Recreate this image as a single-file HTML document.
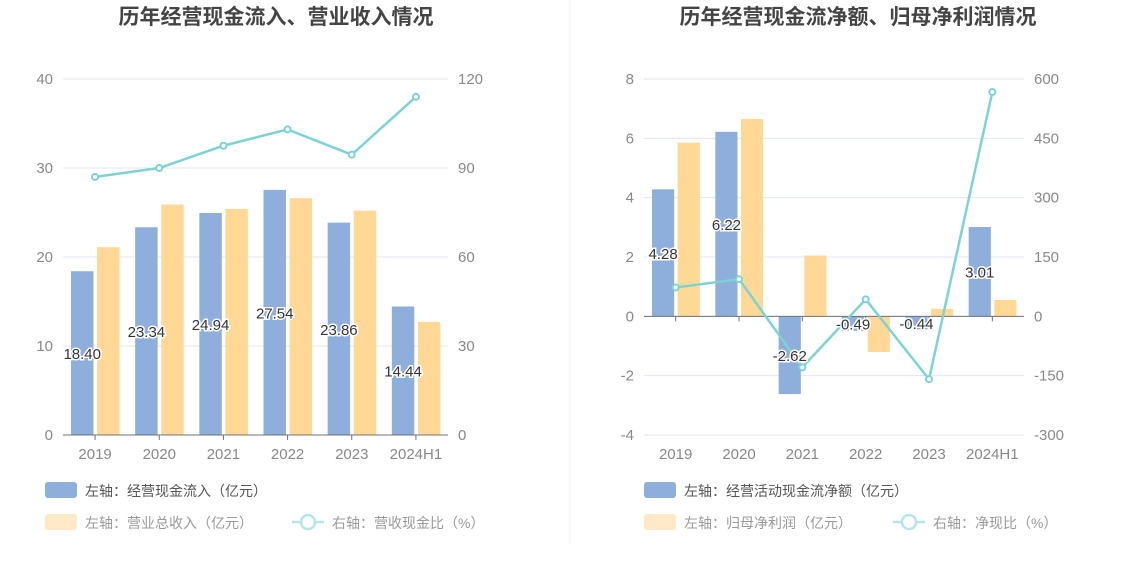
<!DOCTYPE html>
<html><head><meta charset="utf-8"><style>
body{margin:0;background:#fff;width:1134px;height:582px;overflow:hidden;font-family:"Liberation Sans","Noto Sans CJK SC",sans-serif;}
svg text{font-family:"Liberation Sans","Noto Sans CJK SC",sans-serif;}
</style></head><body>
<svg id="s" width="1134" height="582">
<line x1="570" y1="0" x2="570" y2="545" stroke="#eef0f3"/>
</svg>
<script>
const categories=["2019","2020","2021","2022","2023","2024H1"];
const leftInflow=[18.40,23.34,24.94,27.54,23.86,14.44];
const leftRevenue=[21.1,25.9,25.4,26.6,25.2,12.7];
const leftRatio=[87,90,97.5,103,94.5,114];
const leftTicksL=[0,10,20,30,40];
const leftTicksR=[0,30,60,90,120];
const rightNet=[4.28,6.22,-2.62,-0.49,-0.44,3.01];
const rightProfit=[5.85,6.65,2.05,-1.2,0.25,0.55];
const rightRatio=[73,94,-129,43,-159,567];
const rightTicksL=[-4,-2,0,2,4,6,8];
const rightTicksR=[-300,-150,0,150,300,450,600];
const svg=document.getElementById('s');
const NS='http://www.w3.org/2000/svg';
function mk(t,a,txt){const e=document.createElementNS(NS,t);for(const k in a)e.setAttribute(k,a[k]);if(txt!==undefined)e.textContent=txt;svg.appendChild(e);return e;}
function chart(o){
  const top=79,bot=435;
  const yL=v=>bot-(v-o.lmin)/(o.lmax-o.lmin)*(bot-top);
  const yR=v=>bot-(v-o.rmin)/(o.rmax-o.rmin)*(bot-top);
  const bw=(o.x1-o.x0)/categories.length;
  const cx=i=>o.x0+bw*(i+0.5);
  let t=mk('text',{x:o.tx,y:24,'text-anchor':'middle','font-size':21,'font-weight':'bold',fill:'#444'},o.title);
  
  o.ticksL.forEach(v=>{
    let g=mk('line',{x1:o.x0,x2:o.x1,y1:yL(v),y2:yL(v),stroke:'#e0e6f1'});
    
    let l=mk('text',{x:o.x0-10,y:yL(v)+5,'text-anchor':'end','font-size':15,fill:'#888'},v);
    
  });
  o.ticksR.forEach(v=>{
    let l=mk('text',{x:o.x1+10,y:yR(v)+5,'text-anchor':'start','font-size':15,fill:'#888'},v);
    
  });
  const z=yL(0);
  categories.forEach((c,i)=>{
    const a=o.blue[i],b=o.yel[i];
    let r1=mk('rect',{x:cx(i)-bw/2+8,y:Math.min(yL(a),z),width:bw*0.35,height:Math.abs(yL(a)-z),fill:'#8eaedb'});
    
    let r2=mk('rect',{x:cx(i)+2,y:Math.min(yL(b),z),width:bw*0.35,height:Math.abs(yL(b)-z),fill:'#ffd896'});
    
    let xl=mk('text',{x:cx(i),y:bot+24,'text-anchor':'middle','font-size':15,fill:'#888'},c);
    
    let tk=mk('line',{x1:cx(i),x2:cx(i),y1:z,y2:z+5,stroke:'#6e7079'});
    
  });
  let ax=mk('line',{x1:o.x0,x2:o.x1,y1:z,y2:z,stroke:'#6e7079'});
  
  let pts=o.line.map((v,i)=>cx(i)+','+yR(v)).join(' ');
  let pl=mk('polyline',{points:pts,fill:'none',stroke:'#7dd3d3','stroke-width':2.5});
  
  o.line.forEach((v,i)=>{
    let c=mk('circle',{cx:cx(i),cy:yR(v),r:3,fill:'#fff',stroke:'#7dd3d3','stroke-width':2});
    
  });
  o.blue.forEach((v,i)=>{
    let l=mk('text',{x:cx(i)-bw/2+8+bw*0.175,y:(yL(v)+z)/2+6,'text-anchor':'middle','font-size':15,fill:'#333',stroke:'#fff','stroke-width':3,'paint-order':'stroke'},v.toFixed(2));
    
  });
  const lx=o.lx;
  let s1=mk('rect',{x:lx,y:482,width:32,height:16,rx:3,fill:'#8eaedb'});
  
  let t1=mk('text',{x:lx+40,y:496,'font-size':14,fill:'#555'},o.leg1);
  
  let s2=mk('rect',{x:lx,y:514,width:32,height:16,rx:3,fill:'#ffe9c6'});
  
  let t2=mk('text',{x:lx+40,y:528,'font-size':14,fill:'#999'},o.leg2);
  
  const l3=o.leg3x;
  let ll=mk('line',{x1:l3,x2:l3+32,y1:522,y2:522,stroke:'#b5e6e9','stroke-width':2.5});
  
  let lc=mk('circle',{cx:l3+16,cy:522,r:7,fill:'#fff',stroke:'#b5e6e9','stroke-width':2.5});
  
  let t3=mk('text',{x:l3+40,y:528,'font-size':14,fill:'#999'},o.leg3);
  
}
chart({p:'left',x0:63,x1:448,tx:276,lx:45,lmin:0,lmax:40,rmin:0,rmax:120,ticksL:leftTicksL,ticksR:leftTicksR,blue:leftInflow,yel:leftRevenue,line:leftRatio,title:'历年经营现金流入、营业收入情况',leg1:'左轴：经营现金流入（亿元）',leg2:'左轴：营业总收入（亿元）',leg3:'右轴：营收现金比（%）',leg3x:292});
chart({p:'right',x0:644,x1:1024,tx:858,lx:644,lmin:-4,lmax:8,rmin:-300,rmax:600,ticksL:rightTicksL,ticksR:rightTicksR,blue:rightNet,yel:rightProfit,line:rightRatio,title:'历年经营现金流净额、归母净利润情况',leg1:'左轴：经营活动现金流净额（亿元）',leg2:'左轴：归母净利润（亿元）',leg3:'右轴：净现比（%）',leg3x:893});
</script>
</body></html>
